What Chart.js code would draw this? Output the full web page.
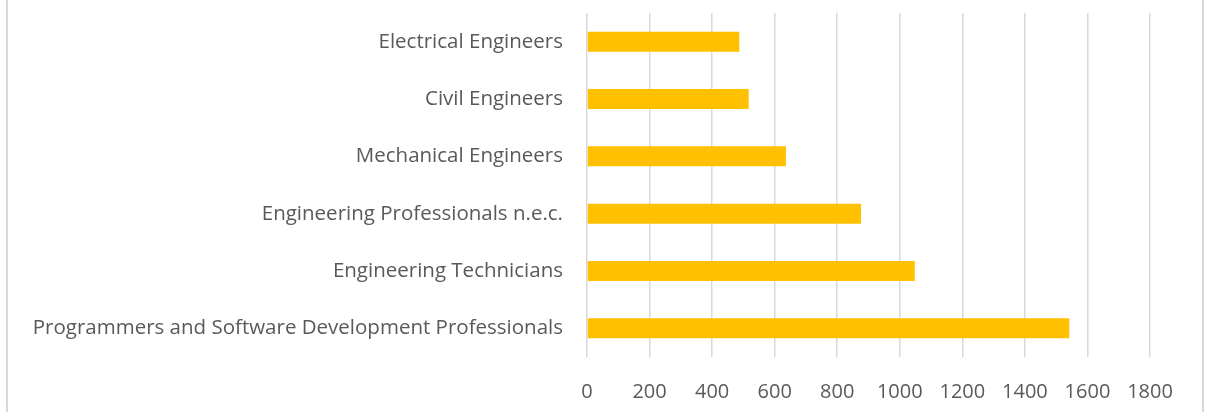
<!DOCTYPE html>
<html>
<head>
<meta charset="utf-8">
<script src="https://cdn.jsdelivr.net/npm/chart.js@4/dist/chart.umd.min.js"></script>
<style>
  html, body { margin: 0; padding: 0; background: #fff; }
  #wrap { position: relative; width: 1205px; height: 412px; }
  #frame { position: absolute; left: 6px; top: -2px; width: 1198px; height: 420px;
           border-left: 2px solid #d9d9d9; border-right: 2px solid #d9d9d9; box-sizing: border-box; pointer-events: none; }
</style>
</head>
<body>
<div id="wrap">
  <canvas id="jobs" width="1205" height="412"></canvas>
  <div id="frame"></div>
</div>
<script>
// occupations, top to bottom
const occupations = [
    "Electrical Engineers",
    "Civil Engineers",
    "Mechanical Engineers",
    "Engineering Professionals n.e.c.",
    "Engineering Technicians",
    "Programmers and Software Development Professionals"
];
const counts = [487, 517, 636, 876, 1048, 1542];
const xTicks = [0, 200, 400, 600, 800, 1000, 1200, 1400, 1600, 1800];

const textColor = "#595959";
const gridColor = "#d9d9d9";

var ctx = document.getElementById("jobs").getContext("2d");
var myChart = new Chart(ctx, {
    type: "bar",
    data: {
        labels: occupations,
        datasets: [{
            label: "",
            data: counts,
            backgroundColor: "#FFC000",
            barPercentage: 0.35,
            categoryPercentage: 1
        }]
    },
    options: {
        indexAxis: "y",
        responsive: false,
        animation: false,
        layout: { padding: { top: 13, right: 55, bottom: 0, left: 0 } },
        plugins: {
            legend: { display: false },
            tooltip: { enabled: false }
        },
        scales: {
            x: {
                min: xTicks[0],
                max: xTicks[xTicks.length - 1],
                afterBuildTicks: (scale) => {
                    scale.ticks = xTicks.map(v => ({ value: v }));
                },
                afterFit: (scale) => {
                    scale.height = 55;
                    scale.paddingLeft = 0;
                    scale.paddingRight = 0;
                },
                grid: { color: gridColor, lineWidth: 1.5, drawTicks: false },
                border: { display: false },
                ticks: {
                    color: textColor,
                    padding: 23,
                    maxRotation: 0,
                    callback: (v) => String(v),
                    font: { family: "'Open Sans'", size: 20 }
                }
            },
            y: {
                afterFit: (scale) => {
                    scale.width = 587;
                    // labels sit in the band, no extra room above/below
                    scale.paddingTop = 0;
                    scale.paddingBottom = 0;
                },
                grid: { display: false, drawTicks: false },
                border: { display: false },
                ticks: {
                    color: textColor,
                    padding: 24,
                    font: { family: "'Open Sans'", size: 20.5 }
                }
            }
        }
    }
});
</script>
</body>
</html>
